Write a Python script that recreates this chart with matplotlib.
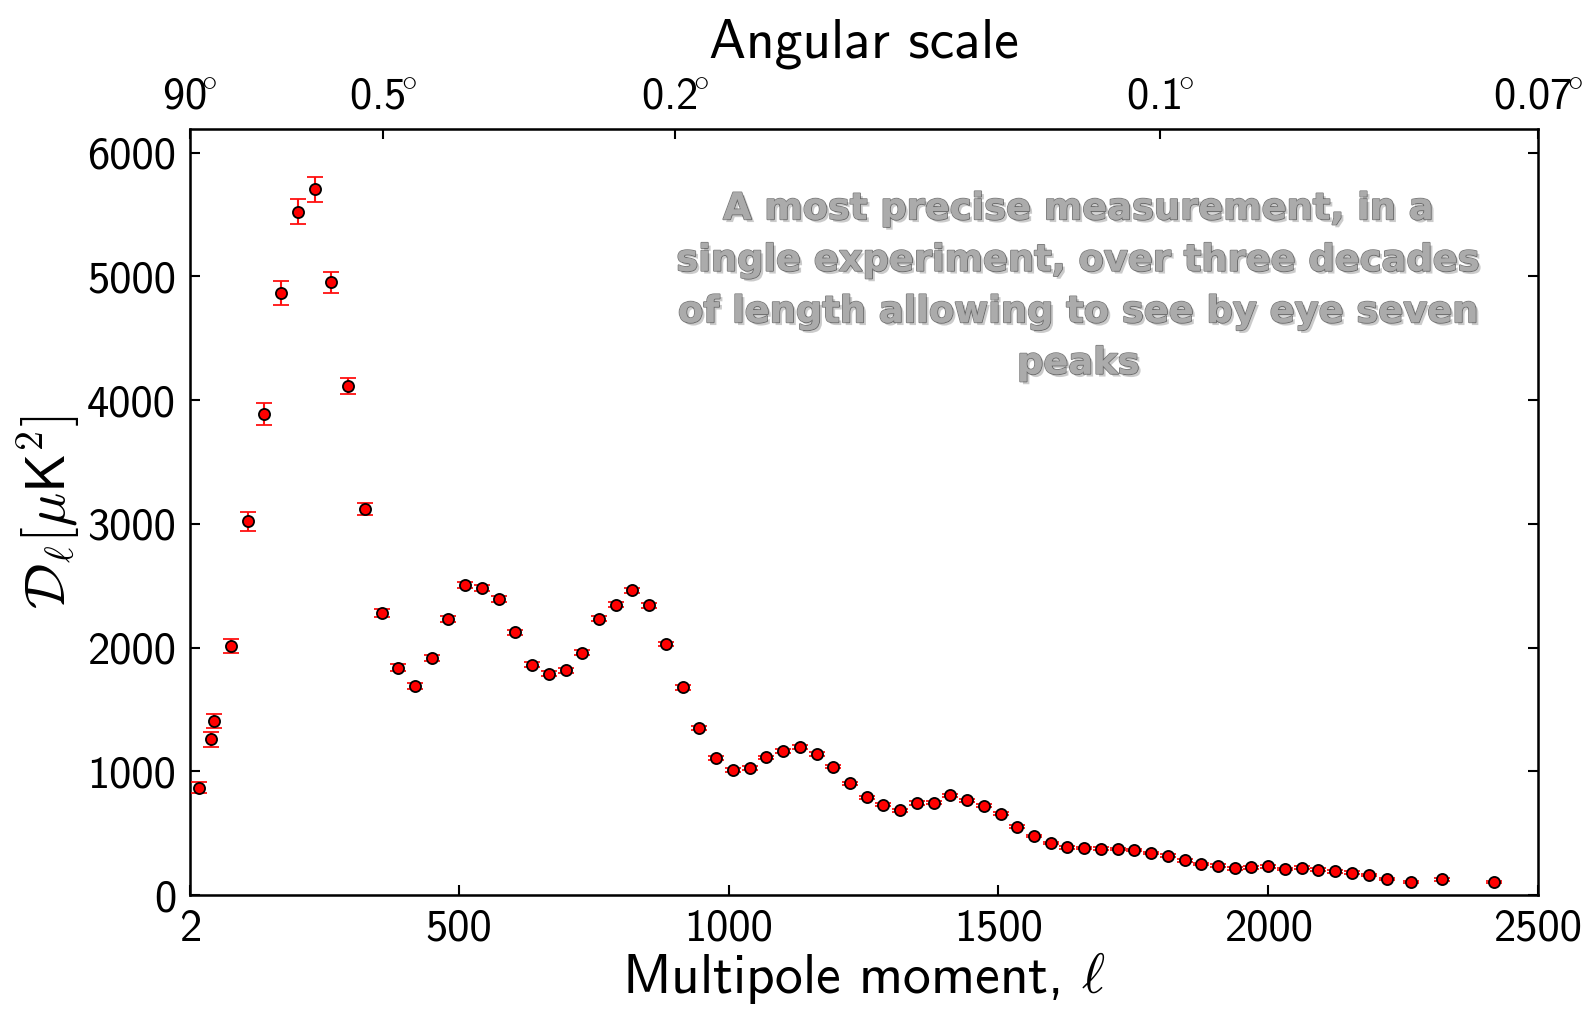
import matplotlib

matplotlib.use("Agg")
import matplotlib.pyplot as plt
import matplotlib.patheffects as pe

# binned CMB power spectrum
ell = [18, 40, 46, 78, 109, 140, 171, 202, 233, 264, 295, 326, 357, 388, 419,
       450, 481, 512, 543, 574, 605, 636, 667, 698, 729, 760, 791, 822, 853,
       884, 915, 946, 977, 1008, 1039, 1070, 1101, 1132, 1163, 1194, 1225,
       1256, 1287, 1318, 1349, 1380, 1411, 1442, 1473, 1504, 1535, 1566, 1597,
       1628, 1659, 1690, 1721, 1752, 1783, 1814, 1845, 1876, 1907, 1938, 1969,
       2000, 2031, 2062, 2093, 2124, 2155, 2186, 2220, 2264, 2323, 2418]
dl = [868, 1260, 1404, 2012, 3020, 3890, 4864, 5523, 5702, 4950, 4114, 3120,
      2279, 1835, 1687, 1918, 2229, 2505, 2480, 2392, 2123, 1862, 1788, 1818,
      1959, 2234, 2344, 2462, 2340, 2027, 1677, 1350, 1109, 1010, 1027, 1112,
      1165, 1198, 1137, 1038, 902, 791, 729, 683, 744, 746, 805, 765, 720, 656,
      553, 477, 420, 385, 380, 373, 372, 363, 340, 318, 280, 250, 238, 215,
      225, 232, 210, 220, 205, 192, 180, 162, 130, 105, 128, 105]
dl_err = [42, 60, 55, 60, 75, 88, 98, 100, 98, 83, 66, 46, 32, 28, 25, 25, 25,
          25, 25, 23, 22, 20, 20, 20, 20, 20, 20, 20, 20, 18, 18, 16, 16, 15,
          15, 15, 15, 15, 15, 14, 14, 13, 13, 13, 13, 13, 13, 12, 12, 12, 12,
          11, 11, 11, 11, 11, 11, 11, 11, 11, 11, 11, 11, 11, 11, 11, 11, 11,
          11, 11, 11, 11, 11, 11, 11, 11]

x_ticks = [2, 500, 1000, 1500, 2000, 2500]
y_ticks = [0, 1000, 2000, 3000, 4000, 5000, 6000]
angle_ticks = [2, 360, 900, 1800, 2500]
angle_labels = ["90", "0.5", "0.2", "0.1", "0.07"]

note = ("A most precise measurement, in a\n"
        "single experiment, over three decades\n"
        "of length allowing to see by eye seven\n"
        "peaks")

plt.rcParams["font.family"] = ["cmss10", "DejaVu Sans"]
plt.rcParams["mathtext.fontset"] = "cm"
plt.rcParams["axes.unicode_minus"] = False

fig = plt.figure(figsize=(15.95, 10.25), dpi=100)
ax = fig.add_axes([190 / 1595, 1 - 895 / 1025, 1348 / 1595, 766 / 1025])

ax.errorbar(ell, dl, yerr=dl_err, fmt="o", ecolor="#ff1010", elinewidth=1.5,
            capsize=5.5, capthick=1.5, mfc="#ff0000", mec="black", ms=8,
            mew=1.3, zorder=3)

ax.set_xlim(2, 2500)
ax.set_ylim(0, 6190)
ax.set_xticks(x_ticks)
ax.set_xticklabels([str(v) for v in x_ticks])
ax.set_yticks(y_ticks)
ax.set_yticklabels([str(v) for v in y_ticks])
ax.tick_params(direction="in", length=7, width=1.5, labelsize=32, pad=10,
               top=False, right=True)
for spine in ax.spines.values():
    spine.set_linewidth(1.8)

ax.set_xlabel(r"Multipole moment, $\ell$", fontsize=40, labelpad=0)
ax.set_ylabel(r"$\mathcal{D}_\ell[\mu\mathsf{K}^2]$", fontsize=41, labelpad=4)

ax2 = ax.twiny()
ax2.set_xlim(ax.get_xlim())
ax2.set_xticks(angle_ticks)
ax2.set_xticklabels([lab + r"$\!^{\circ}$" for lab in angle_labels])
ax2.tick_params(direction="in", length=7, width=1.5, labelsize=32, pad=8)
ax2.set_xlabel("Angular scale", fontsize=40, labelpad=14)

ax.text(0.659, 0.795, note, transform=ax.transAxes, ha="center", va="center",
        multialignment="center", fontsize=26.5, fontweight="bold",
        family="DejaVu Sans", color="#ababab", linespacing=1.5,
        path_effects=[pe.withStroke(linewidth=1.3, foreground="#7a7a7a"),
                      pe.SimplePatchShadow(offset=(2, -2), alpha=0.25),
                      pe.Normal()])

fig.savefig("out.png", dpi=100)
plt.close(fig)
